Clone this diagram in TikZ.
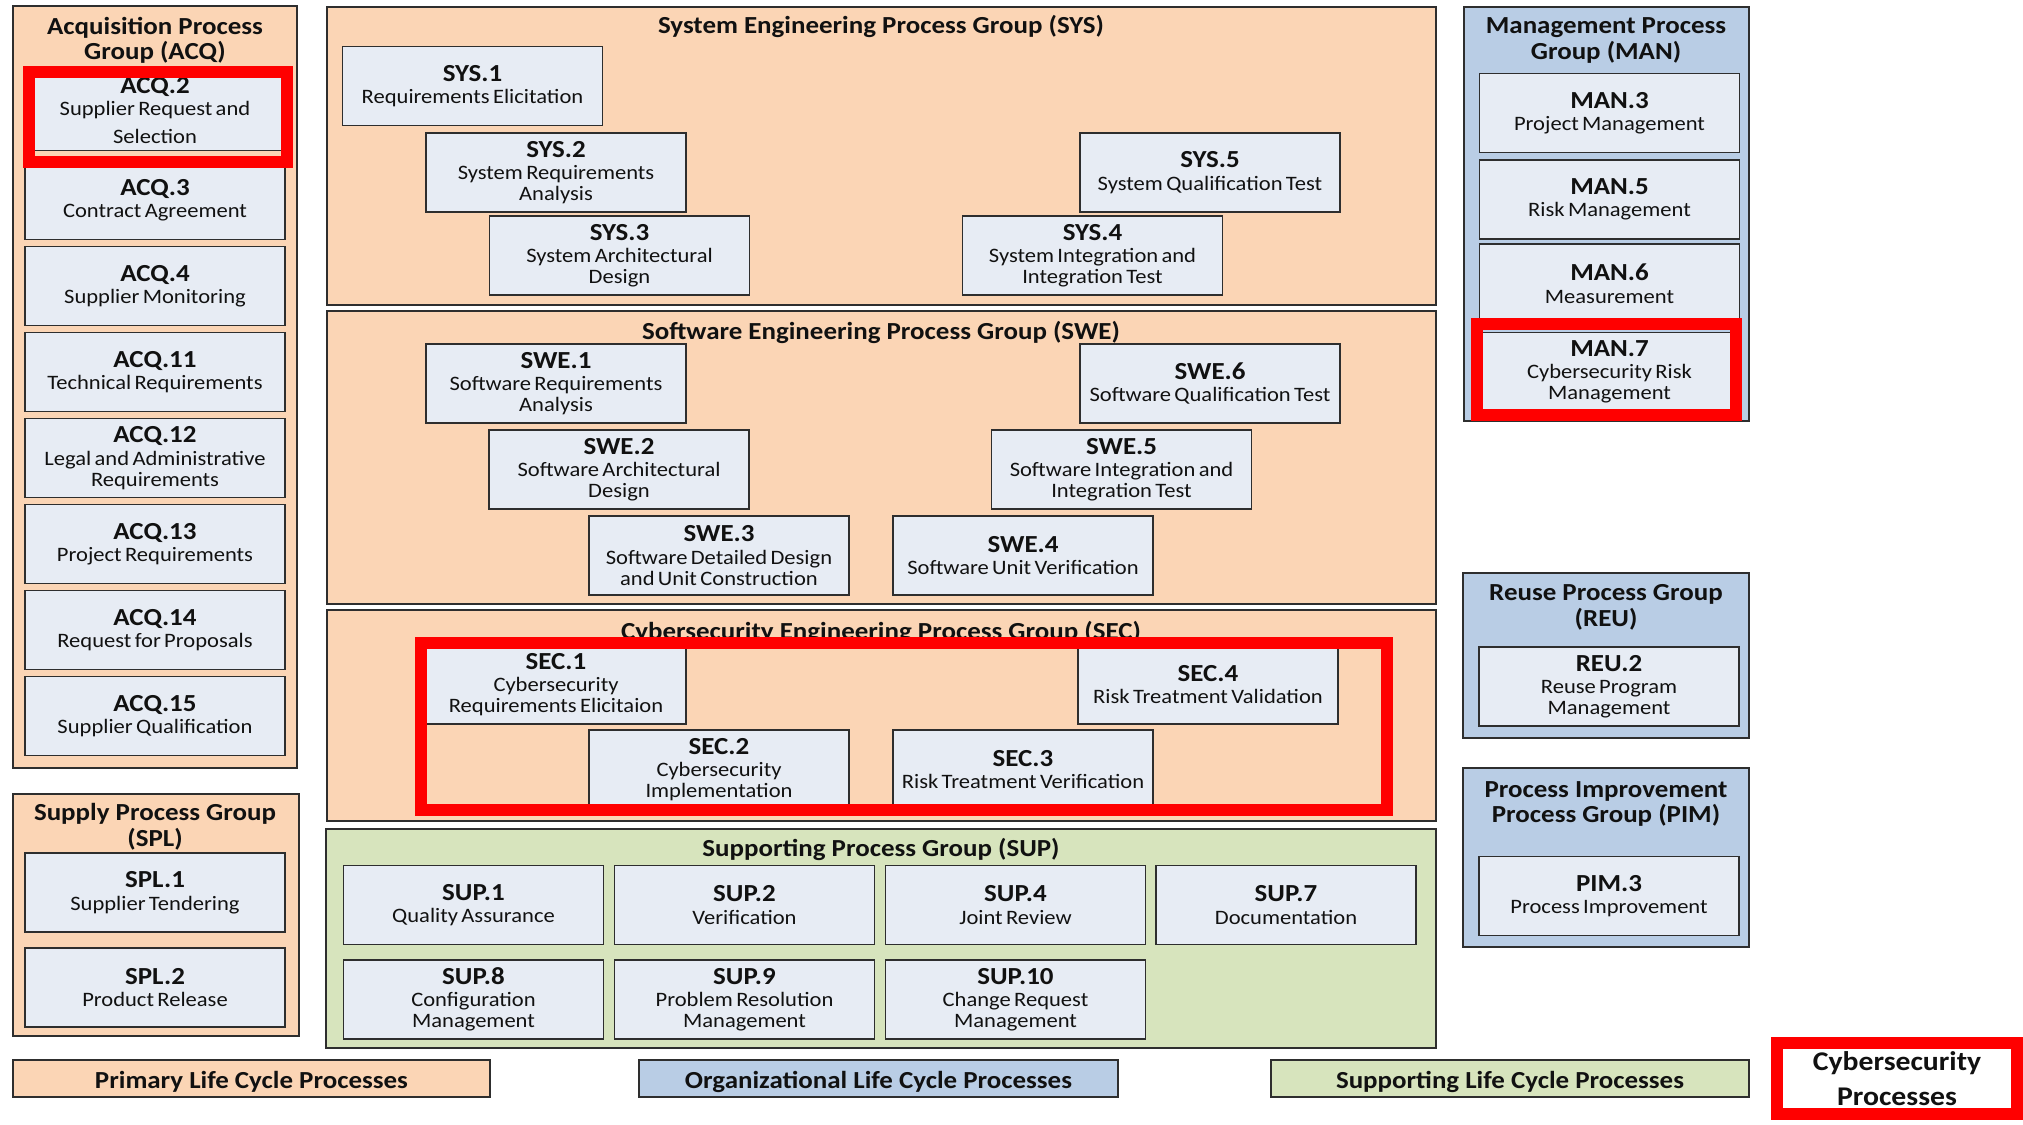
\documentclass[tikz,border=0pt]{standalone}
\usepackage{fontspec}
\setmainfont{Carlito}[FakeStretch=1.1]

\definecolor{peachc}{HTML}{FBD5B5}
\definecolor{bluec}{HTML}{B9CDE5}
\definecolor{greenc}{HTML}{D7E4BD}
\definecolor{boxc}{HTML}{E7ECF4}
\definecolor{edge}{HTML}{2E2E2E}
\definecolor{ink}{HTML}{111111}
\definecolor{alertred}{HTML}{FF0000}

% fonts
\newcommand\idfont{\fontsize{24.5}{25.5}\selectfont\bfseries}
\newcommand\descfont{\fontsize{20.5}{21}\selectfont}
\newcommand\titlefont{\fontsize{24.5}{25.5}\selectfont\bfseries}
% process box contents: identifier over description
\newcommand\proctext[2]{{\idfont #1\par}\vspace{1.5pt}{\descfont #2\par}}
% legend label, set a little below the centre line
\newcommand\legtext[1]{\raisebox{-10pt}[0pt][0pt]{#1}}

\begin{document}
\begin{tikzpicture}[x=1pt,y=-1pt,
  grp/.style={draw=edge, line width=1.8pt},
  proc/.style={draw=edge, fill=boxc, line width=1.8pt, text width=256pt,
    inner xsep=2pt, inner ysep=0pt, minimum height=79pt, align=center, text=ink},
  gtitle/.style={font=\titlefont, align=center, text=ink, inner sep=0pt},
  legendbox/.style={draw=edge, line width=1.8pt, font=\titlefont, text=ink,
    minimum height=37pt, inner sep=0pt},
  hilite/.style={draw=alertred, line width=12pt, line join=miter}]

\useasboundingbox (0,0) rectangle (2023,1124);
\fill[white] (0,0) rectangle (2023,1124);

% ---------- group frames ----------
\path[grp, fill=peachc] (13,6) rectangle (297,768);     % ACQ
\path[grp, fill=peachc] (13,794) rectangle (299,1036);  % SPL
\path[grp, fill=peachc] (327,7) rectangle (1436,305);   % SYS
\path[grp, fill=peachc] (327,311) rectangle (1436,604); % SWE
\path[grp, fill=peachc] (327,610) rectangle (1436,821); % SEC
\path[grp, fill=greenc] (326,829) rectangle (1436,1048);% SUP
\path[grp, fill=bluec] (1464,7) rectangle (1749,421);   % MAN
\path[grp, fill=bluec] (1463,573) rectangle (1749,738); % REU
\path[grp, fill=bluec] (1463,768) rectangle (1749,947); % PIM

% ---------- group titles ----------
\node[gtitle] (tacq) at (155,40.5) {Acquisition Process\\Group (ACQ)};
\node[gtitle] (tspl) at (155,826.5) {Supply Process Group\\(SPL)};
\node[gtitle] (tsys) at (881,26) {System Engineering Process Group (SYS)};
\node[gtitle] (tswe) at (881,332) {Software Engineering Process Group (SWE)};
\node[gtitle] (tsec) at (881,632) {Cybersecurity Engineering Process Group (SEC)};
\node[gtitle] (tsup) at (881,849) {Supporting Process Group (SUP)};
\node[gtitle] (tman) at (1606,40.5) {Management Process\\Group (MAN)};
\node[gtitle] (treu) at (1606,607.5) {Reuse Process Group\\(REU)};
\node[gtitle] (tpim) at (1606,804) {Process Improvement\\Process Group (PIM)};

% ---------- ACQ ----------
\node[proc] (acq2) at (155,111) {{\idfont ACQ.2\par}\vspace{1pt}{\descfont Supplier Request and\\[7pt]Selection\par}};
\node[proc] (acq3) at (155,200) {\proctext{ACQ.3}{Contract Agreement}};
\node[proc] (acq4) at (155,286) {\proctext{ACQ.4}{Supplier Monitoring}};
\node[proc] (acq11) at (155,372) {\proctext{ACQ.11}{Technical Requirements}};
\node[proc] (acq12) at (155,458) {\proctext{ACQ.12}{Legal and Administrative\\Requirements}};
\node[proc] (acq13) at (155,544) {\proctext{ACQ.13}{Project Requirements}};
\node[proc] (acq14) at (155,630) {\proctext{ACQ.14}{Request for Proposals}};
\node[proc] (acq15) at (155,716) {\proctext{ACQ.15}{Supplier Qualification}};

% ---------- SPL ----------
\node[proc] (spl1) at (155,892.5) {\proctext{SPL.1}{Supplier Tendering}};
\node[proc] (spl2) at (155,987.5) {\proctext{SPL.2}{Product Release}};

% ---------- SYS ----------
\node[proc] (sys1) at (472.5,86) {\proctext{SYS.1}{Requirements Elicitation}};
\node[proc] (sys2) at (556,172.5) {\proctext{SYS.2}{System Requirements\\Analysis}};
\node[proc] (sys3) at (619.5,255.5) {\proctext{SYS.3}{System Architectural\\Design}};
\node[proc] (sys4) at (1092.5,255.5) {\proctext{SYS.4}{System Integration and\\Integration Test}};
\node[proc] (sys5) at (1210,172.5) {\proctext{SYS.5}{System Qualification Test}};

% ---------- SWE ----------
\node[proc] (swe1) at (556,383.5) {\proctext{SWE.1}{Software Requirements\\Analysis}};
\node[proc] (swe2) at (619,469.5) {\proctext{SWE.2}{Software Architectural\\Design}};
\node[proc] (swe3) at (719,555.5) {\proctext{SWE.3}{Software Detailed Design\\and Unit Construction}};
\node[proc] (swe4) at (1023,555.5) {\proctext{SWE.4}{Software Unit Verification}};
\node[proc] (swe5) at (1121.5,469.5) {\proctext{SWE.5}{Software Integration and\\Integration Test}};
\node[proc] (swe6) at (1210,383.5) {\proctext{SWE.6}{Software Qualification Test}};

% ---------- SEC ----------
\node[proc] (sec1) at (556,684.5) {\proctext{SEC.1}{Cybersecurity\\Requirements Elicitaion}};
\node[proc] (sec2) at (719,769.5) {\proctext{SEC.2}{Cybersecurity\\Implementation}};
\node[proc] (sec3) at (1023,769.5) {\proctext{SEC.3}{Risk Treatment Verification}};
\node[proc] (sec4) at (1208,684.5) {\proctext{SEC.4}{Risk Treatment Validation}};

% ---------- SUP ----------
\node[proc] (sup1) at (473.5,905) {\proctext{SUP.1}{Quality Assurance}};
\node[proc] (sup2) at (744.5,905) {\proctext{SUP.2}{Verification}};
\node[proc] (sup4) at (1015.5,905) {\proctext{SUP.4}{Joint Review}};
\node[proc] (sup7) at (1286,905) {\proctext{SUP.7}{Documentation}};
\node[proc] (sup8) at (473.5,999.5) {\proctext{SUP.8}{Configuration\\Management}};
\node[proc] (sup9) at (744.5,999.5) {\proctext{SUP.9}{Problem Resolution\\Management}};
\node[proc] (sup10) at (1015.5,999.5) {\proctext{SUP.10}{Change Request\\Management}};

% ---------- MAN ----------
\node[proc] (man3) at (1609.5,113) {\proctext{MAN.3}{Project Management}};
\node[proc] (man5) at (1609.5,199.5) {\proctext{MAN.5}{Risk Management}};
\node[proc] (man6) at (1609.5,283.5) {\proctext{MAN.6}{Measurement}};
\node[proc] (man7) at (1609.5,372) {\proctext{MAN.7}{Cybersecurity Risk\\Management}};

% ---------- REU / PIM ----------
\node[proc] (reu2) at (1609,686.5) {\proctext{REU.2}{Reuse Program\\Management}};
\node[proc] (pim3) at (1609,896) {\proctext{PIM.3}{Process Improvement}};

% ---------- legend ----------
\node[legendbox, fill=peachc, minimum width=477pt] (legprim) at (251.5,1078.5) {\legtext{Primary Life Cycle Processes}};
\node[legendbox, fill=bluec, minimum width=479pt] (legorg) at (878.5,1078.5) {\legtext{Organizational Life Cycle Processes}};
\node[legendbox, fill=greenc, minimum width=478pt] (legsup) at (1510,1078.5) {\legtext{Supporting Life Cycle Processes}};
\node[hilite, fill=white, minimum width=240pt, minimum height=71pt, align=center,
  font=\fontsize{27}{35}\selectfont\bfseries, text=ink, inner sep=0pt] (legsec) at (1897,1078.5) {Cybersecurity\\Processes};

% ---------- cybersecurity highlights ----------
\draw[hilite] (29,72) rectangle (287,162);
\draw[hilite] (421,643) rectangle (1387,810);
\draw[hilite] (1477,324) rectangle (1736,415);

\end{tikzpicture}
\end{document}
